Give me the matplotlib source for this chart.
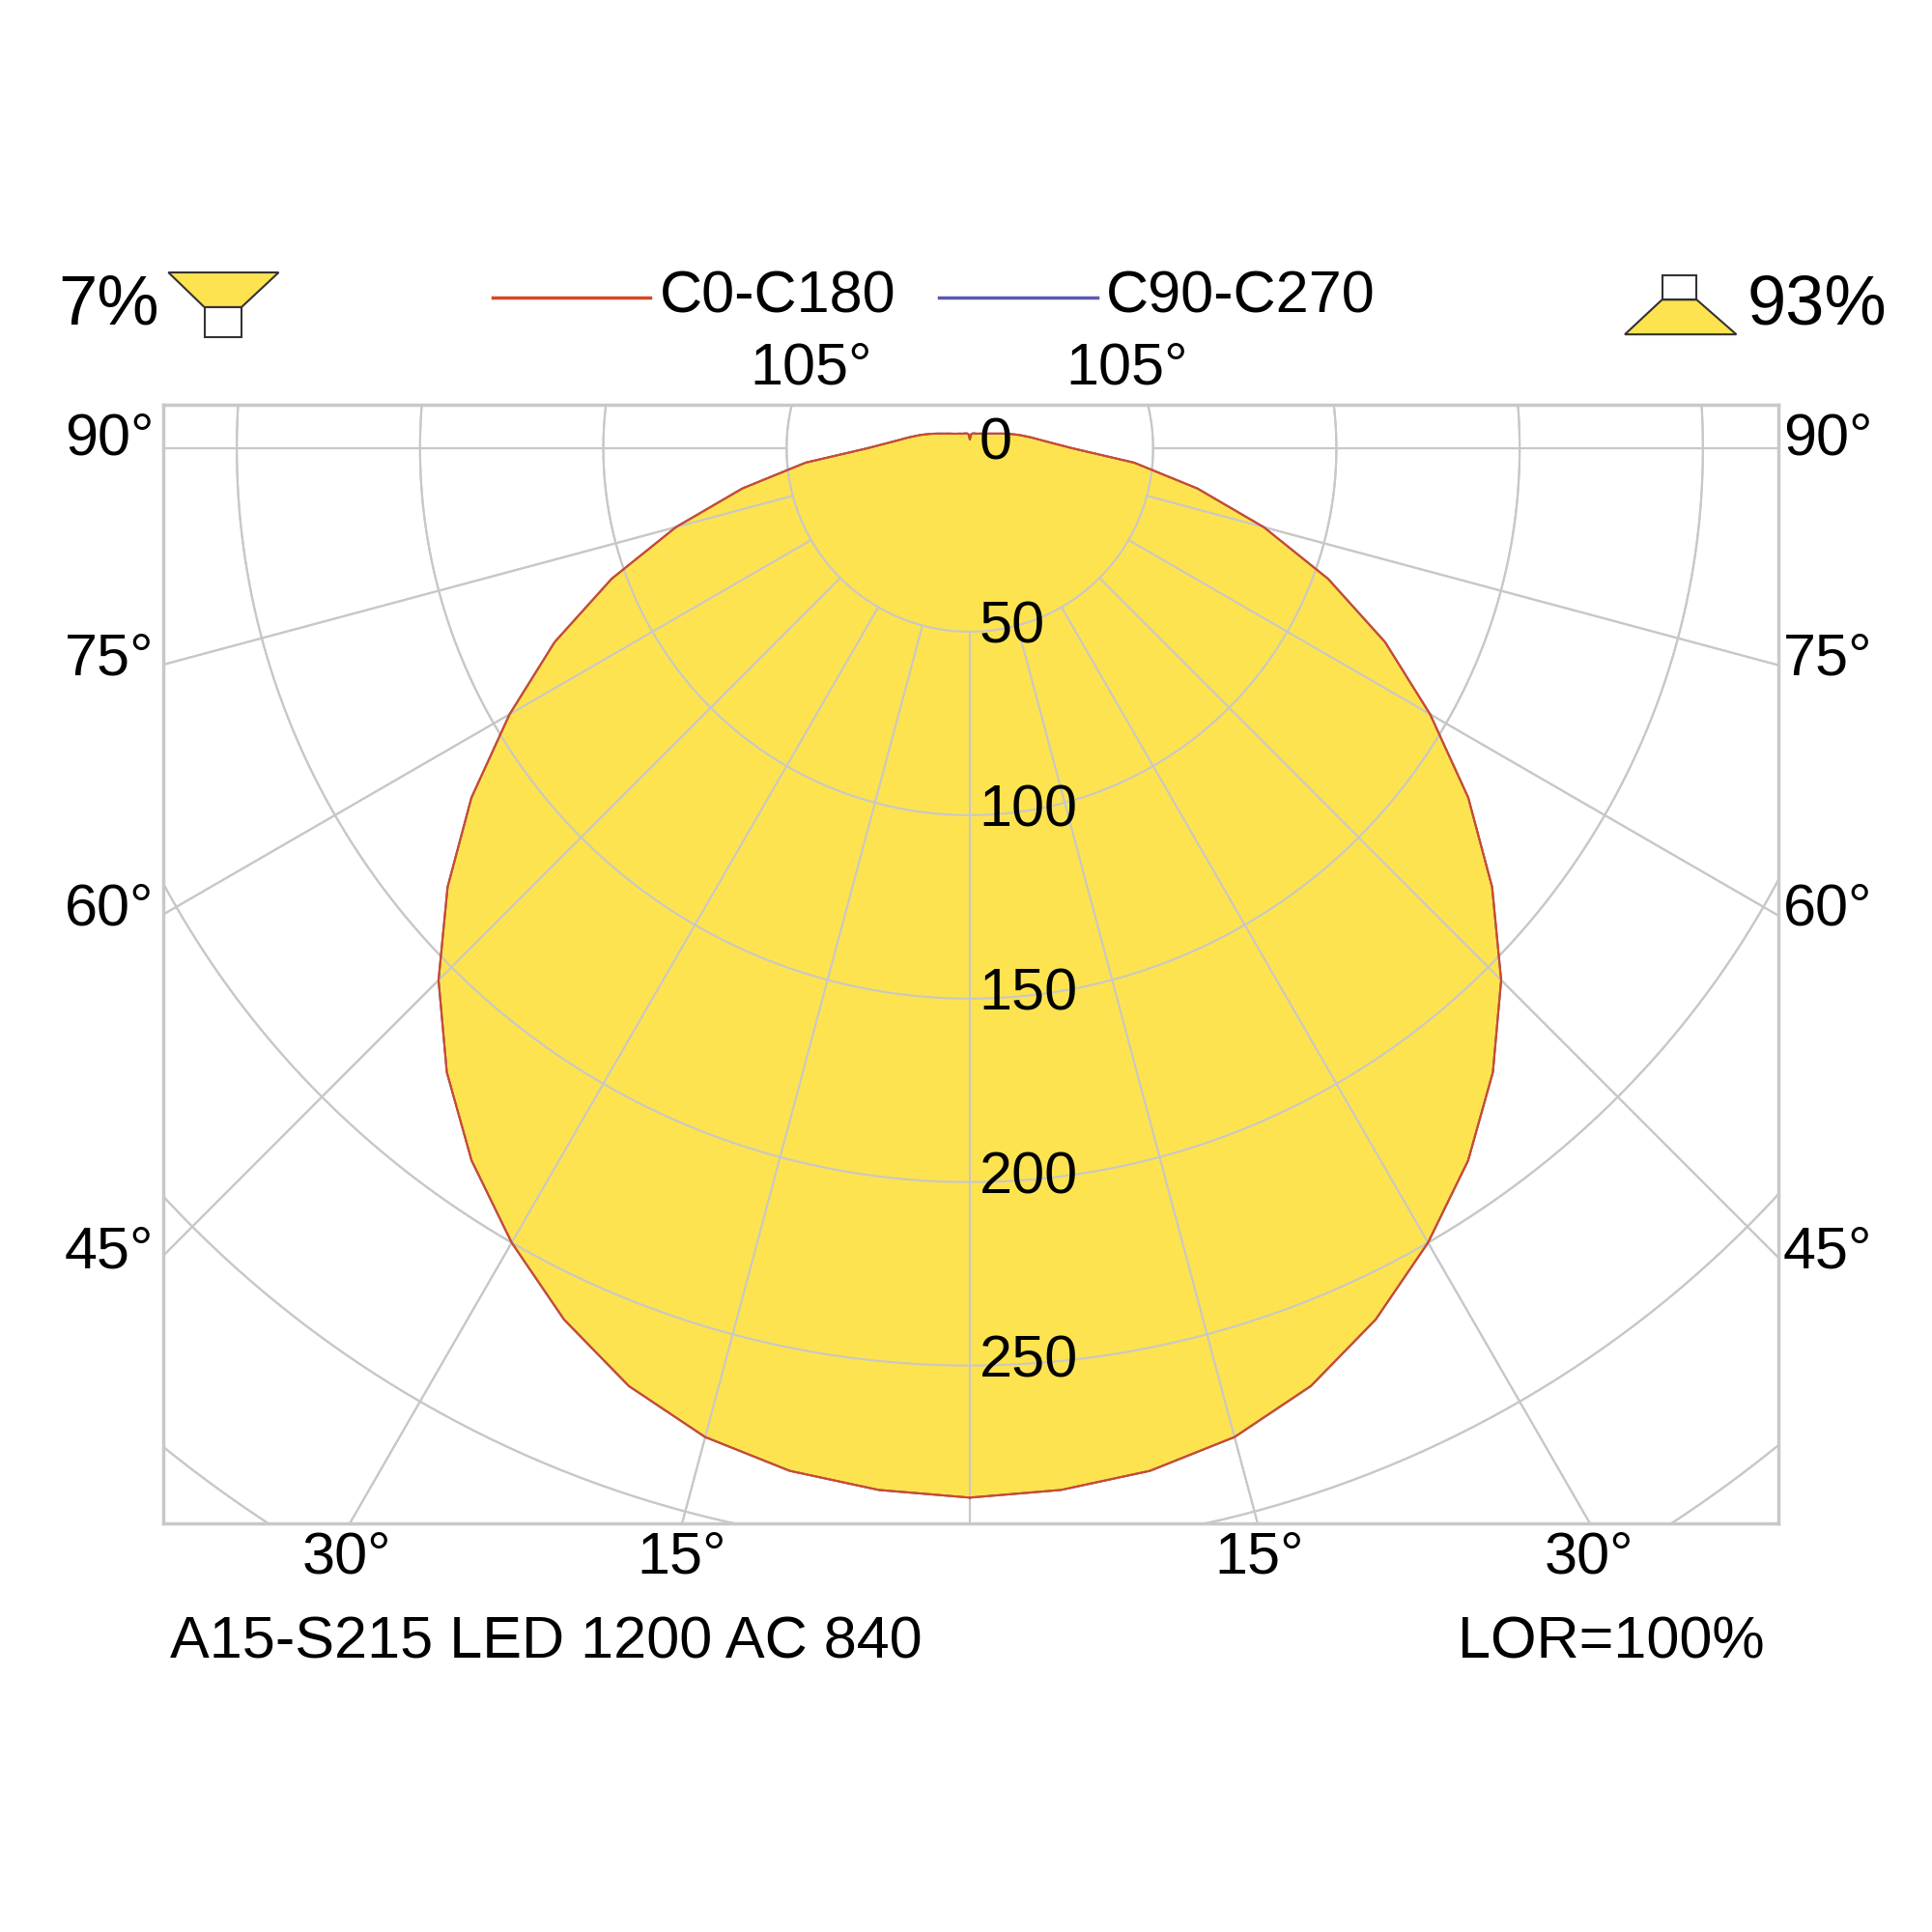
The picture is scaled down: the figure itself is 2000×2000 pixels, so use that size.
import numpy as np
import matplotlib
matplotlib.use("Agg")
import matplotlib.pyplot as plt
from matplotlib.patches import Polygon, Rectangle

plt.rcParams["font.family"] = ["Liberation Sans", "DejaVu Sans"]

# Luminous intensity (cd/klm) vs gamma angle, 0 = straight down
GAMMA = np.arange(0, 181, 5)
INTENSITY = [286, 285, 283, 279, 272, 262, 250, 237, 222, 205, 186, 166, 145,
             125, 104, 83, 63, 45, 28, 21, 17, 14, 11.5, 9.5, 8, 7, 6.2, 5.6,
             5.2, 4.9, 4.6, 4.4, 4.3, 4.2, 4.1, 3.8, 2.4]
RADII = [50, 100, 150, 200, 250, 300, 350, 400]
RADIAL_LABELS = ["0", "50", "100", "150", "200", "250"]
TITLE = "A15-S215 LED 1200 AC 840"
LOR = "LOR=100%"

GRID = "#c8c8c8"
YELLOW = "#fde350"
RED = "#d04a2a"
BLUE = "#5a5ab0"

REF = 1560.0  # reference layout measured on a 1560 px canvas


def fx(x):
    return x / REF


def fy(y):
    return 1 - y / REF


fig = plt.figure(figsize=(20, 20), dpi=100)
ax = fig.add_axes([fx(132), fy(1230), fx(1436) - fx(132), fy(327) - fy(1230)])
ax.set_xlim(-220, 220.6)
ax.set_ylim(-293, 11.8)
ax.set_xticks([])
ax.set_yticks([])
for s in ax.spines.values():
    s.set_color(GRID)
    s.set_linewidth(2.5)

# grid circles and radial lines
t = np.linspace(0, 2 * np.pi, 720)
for r in RADII:
    ax.plot(r * np.sin(t), r * np.cos(t), color=GRID, lw=1.5, zorder=1)
for a in range(-180, 181, 15):
    ar = np.radians(a)
    ax.plot([50 * np.sin(ar), 700 * np.sin(ar)], [-50 * np.cos(ar), -700 * np.cos(ar)],
            color=GRID, lw=1.5, zorder=1)

# photometric curve (both planes identical)
g = np.radians(np.concatenate([GAMMA, -GAMMA[::-1]]))
i = np.array(INTENSITY + INTENSITY[::-1])
xs, ys = i * np.sin(g), -i * np.cos(g)
ax.fill(xs, ys, color=YELLOW, zorder=2)
for a in range(-180, 181, 15):
    ar = np.radians(a)
    ax.plot([50 * np.sin(ar), 700 * np.sin(ar)], [-50 * np.cos(ar), -700 * np.cos(ar)],
            color=GRID, lw=1.5, zorder=3)
for r in RADII:
    ax.plot(r * np.sin(t), r * np.cos(t), color=GRID, lw=1.5, zorder=3)
ax.plot(xs, ys, color=BLUE, lw=1.5, zorder=4)
ax.plot(xs, ys, color=RED, lw=1.5, zorder=5)

for k, lab in enumerate(RADIAL_LABELS):
    ax.text(2.5, -50 * k + 1, lab, fontsize=44, ha="left", va="center", zorder=6)

fs = 44
for lab, y in [("90°", 355), ("75°", 533), ("60°", 735), ("45°", 1012)]:
    fig.text(fx(88), fy(y), lab, fontsize=fs, ha="center", va="center")
    fig.text(fx(1476), fy(y), lab, fontsize=fs, ha="center", va="center")
for lab, x in [("30°", 280), ("15°", 550), ("15°", 1017), ("30°", 1283)]:
    fig.text(fx(x), fy(1258), lab, fontsize=fs, ha="center", va="center")
for x in [655, 910]:
    fig.text(fx(x), fy(298), "105°", fontsize=fs, ha="center", va="center")
fig.text(fx(137), fy(1327), TITLE, fontsize=fs, ha="left", va="center")
fig.text(fx(1425), fy(1327), LOR, fontsize=fs, ha="right", va="center")

# legend
fig.add_artist(plt.Line2D([fx(398), fx(525)], [fy(240), fy(240)], color=RED, lw=2.5))
fig.text(fx(533), fy(240), "C0-C180", fontsize=fs, ha="left", va="center")
fig.add_artist(plt.Line2D([fx(758), fx(886)], [fy(240), fy(240)], color=BLUE, lw=2.5))
fig.text(fx(893), fy(240), "C90-C270", fontsize=fs, ha="left", va="center")

# up / down light icons
fig.text(fx(88), fy(247), "7%", fontsize=52, ha="center", va="center")
fig.text(fx(1467), fy(247), "93%", fontsize=52, ha="center", va="center")
pts = [(136, 220), (225, 220), (195, 248), (165, 248)]
fig.add_artist(Polygon([(fx(x), fy(y)) for x, y in pts], closed=True,
                       transform=fig.transFigure, facecolor=YELLOW, edgecolor="#333333", lw=1.5))
fig.add_artist(Rectangle((fx(165), fy(272)), fx(195) - fx(165), fy(248) - fy(272),
                         transform=fig.transFigure, facecolor="white", edgecolor="#333333", lw=1.5))
pts = [(1342, 242), (1370, 242), (1402, 270), (1312, 270)]
fig.add_artist(Polygon([(fx(x), fy(y)) for x, y in pts], closed=True,
                       transform=fig.transFigure, facecolor=YELLOW, edgecolor="#333333", lw=1.5))
fig.add_artist(Rectangle((fx(1342), fy(242)), fx(1370) - fx(1342), fy(222) - fy(242),
                         transform=fig.transFigure, facecolor="white", edgecolor="#333333", lw=1.5))

fig.savefig("out.png", dpi=100, facecolor="white")
